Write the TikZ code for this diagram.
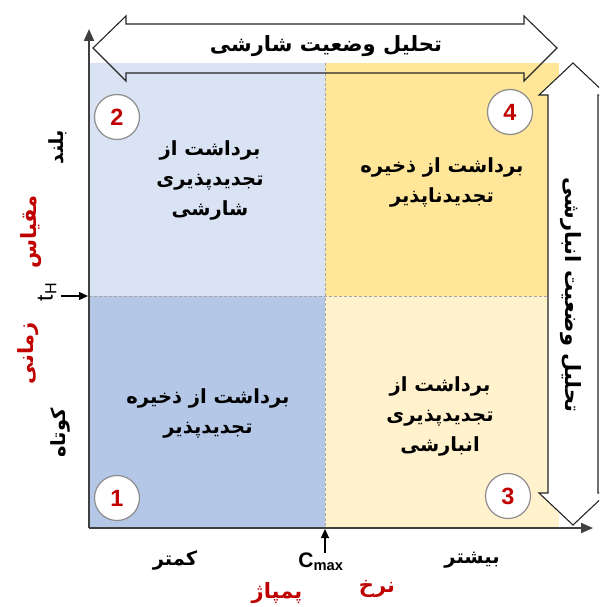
\documentclass[tikz,border=0pt]{standalone}
\usepackage{fontspec}
\setmainfont{Carlito}
\newfontfamily\fa[Script=Arabic]{DejaVu Sans}
\newfontfamily\numfont{Liberation Sans}
\TeXXeTstate=1
\usetikzlibrary{arrows.meta}
\newcommand{\rl}[1]{\beginR #1\endR}
\definecolor{qTL}{HTML}{DAE3F3}
\definecolor{qTR}{HTML}{FFE699}
\definecolor{qBL}{HTML}{B4C7E7}
\definecolor{qBR}{HTML}{FFF2CC}
\definecolor{redlab}{HTML}{C00000}
\definecolor{axisgray}{HTML}{404040}
\tikzset{
  dashgray/.style={draw=black!35, line width=0.9pt, dash pattern=on 3pt off 2pt},
  blockarrow/.style={draw=black!85, line width=1.1pt, line join=miter},
  axisline/.style={draw=axisgray, line width=2pt, -{Triangle[length=12pt,width=10pt]}},
  smallarrow/.style={draw=black, line width=1.3pt, -{Triangle[length=9pt,width=8pt]}},
  numcircle/.style={circle, draw=black!45, line width=1.2pt, fill=white, minimum size=45pt, text=redlab, font=\numfont\bfseries\fontsize{23.5}{25}\selectfont},
  quadtext/.style={align=center, font=\fa\bfseries\fontsize{19.5}{30}\selectfont},
  bigtext/.style={font=\fa\bfseries\fontsize{21}{24}\selectfont},
  sidetext/.style={font=\fa\bfseries\fontsize{19.5}{22}\selectfont},
  redtext/.style={font=\fa\bfseries\fontsize{21}{23}\selectfont, text=redlab},
}
\begin{document}
\begin{tikzpicture}[x=1pt,y=-1pt, every node/.append style={inner sep=0pt, outer sep=0pt}]
\useasboundingbox (0,0) rectangle (599,607);
\clip (0,0) rectangle (599,607);
% quadrants
\fill[qTL] (90,63) rectangle (325,296);
\fill[qTR] (325,63) rectangle (559,296);
\fill[qBL] (90,296) rectangle (325,528);
\fill[qBR] (325,296) rectangle (559,528);
\coordinate (cmaxtop) at (325,63);
\coordinate (cmaxbot) at (325,528);
\coordinate (thl) at (89,296);
\coordinate (thr) at (559,296);
\draw[dashgray] (cmaxtop) -- (cmaxbot);
\draw[dashgray] (thl) -- (thr);
% top block arrow
\draw[blockarrow] (93,48) -- (126,16) -- (126,24) -- (524,24) -- (524,16) -- (557,48)
  -- (524,81) -- (524,73) -- (126,73) -- (126,81) -- cycle;
% right block arrow
\draw[blockarrow, fill=white] (573,63) -- (607,95) -- (598,95) -- (598,493) -- (607,493)
  -- (573,525) -- (539,493) -- (548,493) -- (548,95) -- (539,95) -- cycle;
% axes
\coordinate (origin) at (89,528);
\coordinate (ytip) at (89,29);
\coordinate (xtip) at (593,528);
\draw[axisline] (origin) -- (ytip);
\draw[axisline] (origin) -- (xtip);
% arrow texts
\node[bigtext] (toptext) at (326,46) {\rl{تحلیل وضعیت شارشی}};
\node[bigtext, rotate=-90] (righttext) at (571,295) {\rl{تحلیل وضعیت انبارشی}};
% quadrant texts
\node[quadtext] (qtl) at (210,180) {\rl{برداشت از}\\\rl{تجدیدپذیری}\\\rl{شارشی}};
\node[quadtext] (qtr) at (442,182) {\rl{برداشت از ذخیره}\\\rl{تجدیدناپذیر}};
\node[quadtext] (qbl) at (208,413) {\rl{برداشت از ذخیره}\\\rl{تجدیدپذیر}};
\node[quadtext] (qbr) at (440,416) {\rl{برداشت از}\\\rl{تجدیدپذیری}\\\rl{انبارشی}};
% circles
\node[numcircle] (c2) at (117,117) {2};
\node[numcircle] (c4) at (510,112) {4};
\node[numcircle] (c1) at (117,498) {1};
\node[numcircle] (c3) at (508,496) {3};
% left labels
\node[sidetext, rotate=90] (high) at (58,147) {\rl{بلند}};
\node[sidetext, rotate=90] (low) at (60,433) {\rl{کوتاه}};
\node[redtext, rotate=90] (scale) at (31,232) {\rl{مقیاس}};
\node[redtext, rotate=90] (time) at (28,353) {\rl{زمانی}};
\node[rotate=90, font=\numfont\fontsize{23}{25}\selectfont] (tH) at (47,292) {t\textsubscript{H}};
\coordinate (tHend) at (88,296);
\draw[smallarrow] (61,296) -- (tHend);
% bottom labels
\node[sidetext] (less) at (175,560) {\rl{کمتر}};
\node[sidetext] (more) at (472,560) {\rl{بیشتر}};
\node[font=\numfont\bfseries\fontsize{21}{24}\selectfont, anchor=north] (cmax) at (321,553) {C\textsubscript{max}};
\coordinate (cmaxaxis) at (325,529);
\draw[smallarrow] (325,553) -- (cmaxaxis);
\node[redtext] (rate) at (377,589) {\rl{نرخ}};
\node[redtext] (pump) at (277,593) {\rl{پمپاژ}};
\end{tikzpicture}
\end{document}
